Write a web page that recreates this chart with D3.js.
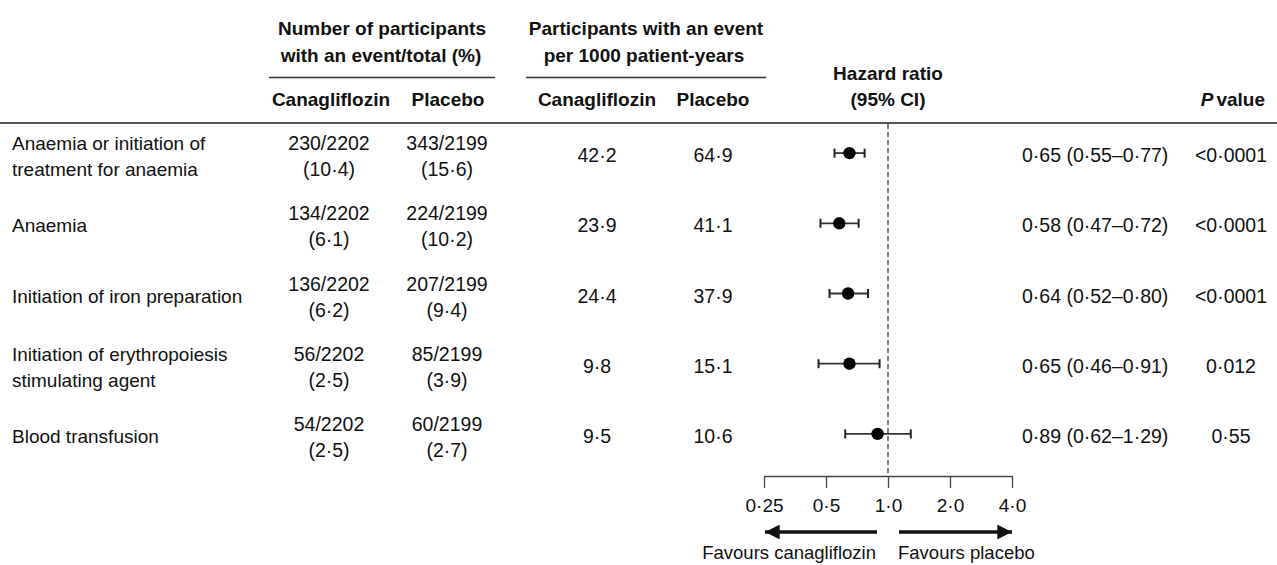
<!DOCTYPE html>
<html>
<head>
<meta charset="utf-8">
<script src="https://cdn.jsdelivr.net/npm/d3@7"></script>
<style>
  html, body { margin: 0; padding: 0; background: #fff; }
  svg { display: block; }
  text { font-family: "Liberation Sans", Arial, sans-serif; fill: #111; }
  .hdr { font-weight: bold; font-size: 19px; }
  .cell { font-size: 19.5px; }
  .label { font-size: 19px; }
  .favours { font-size: 18.5px; }
</style>
</head>
<body>
<svg id="chart" width="1277" height="565"></svg>
<script>
// Outcomes (row labels, possibly wrapped over two lines)
const outcomes = [
  ["Anaemia or initiation of", "treatment for anaemia"],
  ["Anaemia"],
  ["Initiation of iron preparation"],
  ["Initiation of erythropoiesis", "stimulating agent"],
  ["Blood transfusion"]
];

// Participants with an event / total (%)
const canaEvents = [230, 134, 136, 56, 54];
const canaTotal = 2202;
const canaPct = [10.4, 6.1, 6.2, 2.5, 2.5];
const placEvents = [343, 224, 207, 85, 60];
const placTotal = 2199;
const placPct = [15.6, 10.2, 9.4, 3.9, 2.7];

// Events per 1000 patient-years
const canaRate = [42.2, 23.9, 24.4, 9.8, 9.5];
const placRate = [64.9, 41.1, 37.9, 15.1, 10.6];

// Hazard ratios with 95% CI
const hazardRatio = [0.65, 0.58, 0.64, 0.65, 0.89];
const ciLower = [0.55, 0.47, 0.52, 0.46, 0.62];
const ciUpper = [0.77, 0.72, 0.80, 0.91, 1.29];
const pValues = ["<0·0001", "<0·0001", "<0·0001", "0·012", "0·55"];

// Axis ticks
const axisTicks = [0.25, 0.5, 1, 2, 4];
const tickLabels = ["0·25", "0·5", "1·0", "2·0", "4·0"];

const svg = d3.select("#chart");

const dot = s => s.replace(".", "·");
const f1 = v => dot(d3.format(".1f")(v));
const f2 = v => dot(d3.format(".2f")(v));

// Scales
const y = d3.scaleBand().domain(d3.range(outcomes.length)).range([118, 469]);
const cy = i => y(i) + y.bandwidth() / 2;
const x = d3.scaleLog().base(2).domain([0.25, 4]).range([764, 1012]);

// Column positions
const col = { label: 12, canaN: 329, placN: 447, canaR: 597, placR: 713, hrText: 1022, p: 1231 };

// ---- Header ----
const hdr = svg.append("g");
function headerText(xp, yp, str, anchor = "middle") {
  return hdr.append("text").attr("class", "hdr").attr("x", xp).attr("y", yp)
    .attr("text-anchor", anchor).text(str);
}
headerText(382, 35, "Number of participants");
headerText(381, 62, "with an event/total (%)");
headerText(646, 35, "Participants with an event");
headerText(644, 62, "per 1000 patient-years");
headerText(331, 106, "Canagliflozin");
headerText(448, 106, "Placebo");
headerText(597, 106, "Canagliflozin");
headerText(713, 106, "Placebo");
headerText(888, 80, "Hazard ratio");
headerText(888, 106, "(95% CI)");
const pv = hdr.append("text").attr("class", "hdr").attr("x", 1265).attr("y", 106)
  .attr("text-anchor", "end");
pv.append("tspan").attr("font-style", "italic").text("P");
pv.append("tspan").attr("dx", 3).text("value");

hdr.append("line").attr("x1", 269).attr("x2", 495).attr("y1", 77.5).attr("y2", 77.5)
  .attr("stroke", "#333").attr("stroke-width", 1.3);
hdr.append("line").attr("x1", 526).attr("x2", 766).attr("y1", 77.5).attr("y2", 77.5)
  .attr("stroke", "#333").attr("stroke-width", 1.3);
hdr.append("line").attr("x1", 0).attr("x2", 1277).attr("y1", 123).attr("y2", 123)
  .attr("stroke", "#555").attr("stroke-width", 2);

// ---- Table cells ----
const rows = svg.append("g").selectAll("g").data(outcomes).join("g")
  .attr("transform", (d, i) => `translate(0,${cy(i)})`);

function cellText(sel, xp, anchor, lines, cls = "cell") {
  const t = sel.append("text").attr("class", cls).attr("x", xp).attr("text-anchor", anchor);
  if (lines.length === 1) {
    t.append("tspan").attr("x", xp).attr("y", 9).text(lines[0]);
  } else {
    t.append("tspan").attr("x", xp).attr("y", -3).text(lines[0]);
    t.append("tspan").attr("x", xp).attr("y", 23).text(lines[1]);
  }
}

rows.each(function (d, i) {
  const g = d3.select(this);
  cellText(g, col.label, "start", d, "label");
  cellText(g, col.canaN, "middle", [`${canaEvents[i]}/${canaTotal}`, `(${f1(canaPct[i])})`]);
  cellText(g, col.placN, "middle", [`${placEvents[i]}/${placTotal}`, `(${f1(placPct[i])})`]);
  cellText(g, col.canaR, "middle", [f1(canaRate[i])]);
  cellText(g, col.placR, "middle", [f1(placRate[i])]);
  cellText(g, col.hrText, "start", [`${f2(hazardRatio[i])} (${f2(ciLower[i])}–${f2(ciUpper[i])})`]);
  cellText(g, col.p, "middle", [pValues[i]]);
});

// ---- Forest plot ----
const plot = svg.append("g");

// reference line at HR = 1
plot.append("line")
  .attr("x1", x(1)).attr("x2", x(1)).attr("y1", 124).attr("y2", 476)
  .attr("stroke", "#808080").attr("stroke-width", 2).attr("stroke-dasharray", "5,3");

const ci = plot.selectAll("g.ci").data(hazardRatio).join("g").attr("class", "ci");
ci.append("line")
  .attr("x1", (d, i) => x(ciLower[i])).attr("x2", (d, i) => x(ciUpper[i]))
  .attr("y1", (d, i) => cy(i)).attr("y2", (d, i) => cy(i))
  .attr("stroke", "#333").attr("stroke-width", 1.8);
ci.append("line")
  .attr("x1", (d, i) => x(ciLower[i])).attr("x2", (d, i) => x(ciLower[i]))
  .attr("y1", (d, i) => cy(i) - 4.5).attr("y2", (d, i) => cy(i) + 4.5)
  .attr("stroke", "#222").attr("stroke-width", 2);
ci.append("line")
  .attr("x1", (d, i) => x(ciUpper[i])).attr("x2", (d, i) => x(ciUpper[i]))
  .attr("y1", (d, i) => cy(i) - 4.5).attr("y2", (d, i) => cy(i) + 4.5)
  .attr("stroke", "#222").attr("stroke-width", 2);
ci.append("circle")
  .attr("cx", d => x(d)).attr("cy", (d, i) => cy(i)).attr("r", 6.2)
  .attr("fill", "#000");

// axis
const axis = d3.axisBottom(x).tickValues(axisTicks)
  .tickFormat((d, i) => tickLabels[i]).tickSize(12).tickPadding(11).tickSizeOuter(0);
const ax = plot.append("g").attr("transform", "translate(0,476)").call(axis);
ax.select(".domain").attr("stroke", "#444").attr("stroke-width", 1.3);
ax.selectAll(".tick line").attr("stroke", "#444").attr("stroke-width", 1.3);
ax.selectAll(".tick text").attr("font-size", 19).attr("fill", "#111")
  .attr("font-family", '"Liberation Sans", Arial, sans-serif');

// direction arrows
const defs = svg.append("defs");
defs.append("marker").attr("id", "arrowhead").attr("viewBox", "0 0 10 10")
  .attr("refX", 10).attr("refY", 5).attr("markerWidth", 4.5).attr("markerHeight", 4.2)
  .attr("markerUnits", "strokeWidth").attr("orient", "auto")
  .append("path").attr("d", "M0,0 L10,5 L0,10 Z").attr("fill", "#111");

plot.append("line").attr("x1", x(1) - 11).attr("x2", x(0.25) + 1)
  .attr("y1", 532).attr("y2", 532).attr("stroke", "#111").attr("stroke-width", 3.5)
  .attr("marker-end", "url(#arrowhead)");
plot.append("line").attr("x1", x(1) + 11).attr("x2", x(4))
  .attr("y1", 532).attr("y2", 532).attr("stroke", "#111").attr("stroke-width", 3.5)
  .attr("marker-end", "url(#arrowhead)");

plot.append("text").attr("class", "favours").attr("x", x(1) - 12).attr("y", 559)
  .attr("text-anchor", "end").text("Favours canagliflozin");
plot.append("text").attr("class", "favours").attr("x", x(1) + 10).attr("y", 559)
  .attr("text-anchor", "start").text("Favours placebo");
</script>
</body>
</html>
